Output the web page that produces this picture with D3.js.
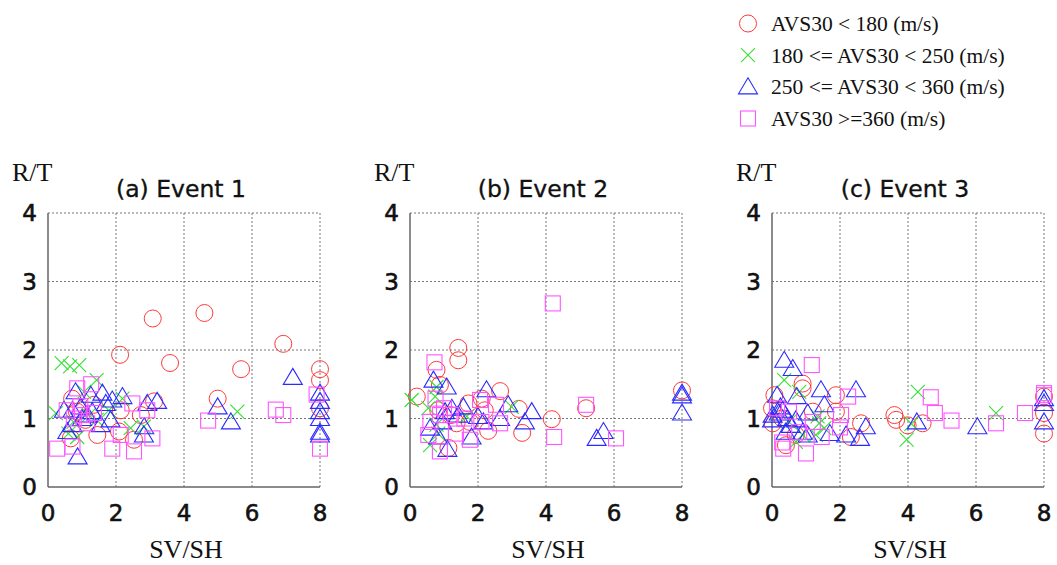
<!DOCTYPE html>
<html>
<head>
<meta charset="utf-8">
<script src="https://cdn.jsdelivr.net/npm/d3@7"></script>
<style>
  body { margin: 0; background: #fff; }
  svg { display: block; }
</style>
</head>
<body>
<div id="chart"></div>
<script>
// ---- data: [SV/SH, R/T] per AVS30 class, one set per event ----
const ev1Lt180 = [[3.08,2.46],[4.6,2.54],[6.92,2.09],[2.12,1.93],[3.59,1.81],[5.68,1.72],[8,1.72],[8,1.56],[8,1.15],[4.99,1.29],[3.12,1.25],[2.14,1.12],[2.73,1.05],[1.45,0.76],[2.09,0.81],[2.53,0.69],[0.67,0.71],[0.71,1.29],[1.35,1.2],[1.1,0.98],[0.85,1.1]];
const ev1To250 = [[0.4,1.81],[0.65,1.76],[0.92,1.78],[1.43,1.56],[0.23,1.08],[1.06,1.39],[2.19,1.29],[5.57,1.1],[2.43,0.86],[2.82,0.88],[0.86,0.73],[0.6,0.78],[1.43,0.98],[1.79,1.12],[0.75,0.95],[1.2,1.05]];
const ev1To360 = [[7.2,1.6],[8,1.37],[8,1.25],[8,1.1],[8,1.0],[8,0.8],[8,0.76],[4.99,1.17],[5.38,0.95],[3.21,1.25],[2.92,1.22],[2.83,0.88],[2.82,0.76],[2.19,1.32],[1.89,1.27],[1.6,1.37],[1.26,1.34],[0.81,1.39],[0.87,0.44],[0.47,1.12],[0.72,1.12],[0.96,1.17],[1.16,1.05],[1.7,1.22],[1.84,0.98],[0.72,0.91],[1.55,0.91],[0.57,0.81],[1.0,1.0],[1.3,1.1]];
const ev1Ge360 = [[7.9,1.35],[8,0.56],[6.7,1.13],[6.92,1.05],[4.71,0.97],[0.27,0.56],[0.72,0.59],[1.89,0.56],[2.53,0.52],[3.07,0.71],[2.14,0.76],[2.48,1.22],[2.92,1.12],[0.86,1.44],[1.27,1.5],[0.76,1.0],[1.35,1.08],[0.55,1.12],[1.0,1.05],[1.15,0.93],[0.95,1.18]];

const ev2Lt180 = [[1.42,2.03],[1.42,1.85],[0.78,1.71],[0.88,1.49],[0.2,1.32],[2.65,1.4],[2.11,1.29],[3.2,1.14],[4.17,0.99],[5.18,1.15],[3.3,0.79],[8,1.41],[2.2,1.12],[2.3,0.82],[1.13,0.57],[1.72,1.22],[1.37,0.93],[1.76,0.95],[0.83,1.12],[1.2,1.05]];
const ev2To250 = [[0.05,1.27],[0.74,1.32],[0.78,1.46],[0.54,1.15],[0.78,0.91],[0.59,0.61],[2.99,1.17],[1.67,1.03],[0.83,0.78]];
const ev2To360 = [[0.69,1.56],[1.08,1.46],[2.25,1.42],[2.89,1.2],[3.58,1.1],[3.38,0.95],[2.65,1.0],[2.16,0.95],[1.23,1.15],[1.57,1.17],[1.81,0.73],[0.59,0.86],[0.83,0.73],[1.03,1.1],[1.42,1.05],[5.69,0.81],[5.49,0.71],[8,1.37],[8,1.33],[8,1.08],[1.1,0.55],[0.95,0.95],[2.0,1.03]];
const ev2Ge360 = [[4.2,2.68],[0.72,1.82],[5.18,1.2],[4.24,0.73],[6.06,0.71],[0.75,1.29],[2.53,1.2],[2.06,1.27],[0.88,0.52],[1.76,0.69],[0.54,0.76],[2.65,0.93],[0.88,1.05],[1.2,1.05],[2.1,0.95],[1.35,0.78],[0.6,0.95],[1.0,1.15],[1.6,1.0]];

const ev3Lt180 = [[0.9,1.51],[0.9,1.44],[0.07,1.34],[1.88,1.34],[1.88,1.1],[2.62,0.93],[2.32,0.73],[3.6,1.05],[3.65,0.98],[3.99,0.9],[4.43,0.93],[8,1.32],[8,1.08],[8,0.78],[0.0,1.15],[0.02,0.93],[0.41,0.61],[0.7,0.76],[1.2,1.1],[0.3,1.0]];
const ev3To250 = [[0.36,1.56],[0.8,1.39],[4.29,1.39],[3.96,0.69],[6.59,1.08],[4.1,0.92],[1.34,1.03],[1.39,0.93],[1.54,0.86],[1.29,0.76],[0.9,0.76],[0.7,0.66],[0.5,0.95]];
const ev3To360 = [[0.36,1.85],[0.61,1.73],[1.44,1.42],[2.47,1.42],[0.15,1.34],[0.73,1.32],[1.54,1.2],[1.05,1.08],[2.76,0.88],[2.59,0.71],[2.18,0.76],[0.9,0.8],[0.4,0.8],[0.7,0.98],[0.02,1.05],[0.31,1.12],[4.26,0.95],[6.04,0.88],[8,1.29],[8,1.22],[8,0.95],[1.7,0.78],[0.0,0.98],[0.2,1.08],[0.25,1.17],[0.45,1.0],[0.55,0.9],[1.05,0.76]];
const ev3Ge360 = [[1.17,1.78],[2.24,1.32],[4.67,1.31],[4.79,1.08],[5.28,0.97],[6.59,0.93],[7.44,1.08],[8,1.37],[8,1.34],[1.0,0.49],[2.03,1.05],[0.33,0.56],[1.46,0.73],[0.5,1.1],[0.15,1.15],[0.8,0.8],[2.0,0.87],[0.3,0.65],[1.2,0.95]];

const panelTitles = ["(a) Event 1", "(b) Event 2", "(c) Event 3"];
const xTicks = [0, 2, 4, 6, 8];
const yTicks = [0, 1, 2, 3, 4];
const classLabels = ["AVS30 < 180 (m/s)", "180 <= AVS30 < 250 (m/s)", "250 <= AVS30 < 360 (m/s)", "AVS30 >=360 (m/s)"];

const events = [
  [ev1Lt180, ev1To250, ev1To360, ev1Ge360],
  [ev2Lt180, ev2To250, ev2To360, ev2Ge360],
  [ev3Lt180, ev3To250, ev3To360, ev3Ge360]
];

// ---- layout ----
const W = 1057, H = 565;
const panelLeft = [48, 410, 772];
const pw = 272, plotTop = 213, plotBottom = 487;
const colors = ["#ff3a3a", "#33e033", "#2b2bff", "#ff55ff"];
const shapes = ["circle", "cross", "triangle", "square"];
const gothic = "'DejaVu Sans', sans-serif";
const serif = "'Liberation Serif', 'Times New Roman', serif";

const svg = d3.select("#chart").append("svg")
  .attr("width", W).attr("height", H);

function drawMarker(g, shape, color) {
  if (shape === "circle") {
    g.append("circle").attr("r", 8.5)
      .attr("fill", "none").attr("stroke", color).attr("stroke-width", 1);
  } else if (shape === "cross") {
    g.append("path").attr("d", "M-7,-7L7,7M-7,7L7,-7")
      .attr("fill", "none").attr("stroke", color).attr("stroke-width", 1.1);
  } else if (shape === "triangle") {
    g.append("path").attr("d", "M0,-9L9.5,7L-9.5,7Z")
      .attr("fill", "none").attr("stroke", color).attr("stroke-width", 1.1);
  } else {
    g.append("rect").attr("x", -7.5).attr("y", -7.5).attr("width", 15).attr("height", 15)
      .attr("fill", "none").attr("stroke", color).attr("stroke-width", 1.1);
  }
}

events.forEach((series, i) => {
  const x0 = panelLeft[i];
  const x = d3.scaleLinear().domain([0, 8]).range([x0, x0 + pw]);
  const y = d3.scaleLinear().domain([0, 4]).range([plotBottom, plotTop]);
  const g = svg.append("g");

  // dotted grid (includes right and top border)
  g.selectAll(".gx").data(xTicks.filter(t => t > 0)).join("line")
    .attr("x1", d => x(d)).attr("x2", d => x(d))
    .attr("y1", plotTop).attr("y2", plotBottom)
    .attr("stroke", "#777").attr("stroke-width", 1).attr("stroke-dasharray", "2,2");
  g.selectAll(".gy").data(yTicks.filter(t => t > 0)).join("line")
    .attr("x1", x0).attr("x2", x0 + pw)
    .attr("y1", d => y(d)).attr("y2", d => y(d))
    .attr("stroke", "#777").attr("stroke-width", 1).attr("stroke-dasharray", "2,2");

  // solid left and bottom axes
  g.append("line").attr("x1", x0).attr("x2", x0).attr("y1", plotTop).attr("y2", plotBottom)
    .attr("stroke", "#666").attr("stroke-width", 1.5);
  g.append("line").attr("x1", x0).attr("x2", x0 + pw).attr("y1", plotBottom).attr("y2", plotBottom)
    .attr("stroke", "#666").attr("stroke-width", 1.5);

  // tick labels (heavier gothic digits)
  g.selectAll(".xt").data(xTicks).join("text")
    .attr("x", d => x(d)).attr("y", 521)
    .attr("text-anchor", "middle")
    .attr("font-family", gothic).attr("font-size", 23).attr("fill", "#111")
    .attr("stroke", "#111").attr("stroke-width", 0.6)
    .text(d => d);
  g.selectAll(".yt").data(yTicks).join("text")
    .attr("x", x0 - 11).attr("y", d => y(d) + 8)
    .attr("text-anchor", "end")
    .attr("font-family", gothic).attr("font-size", 23).attr("fill", "#111")
    .attr("stroke", "#111").attr("stroke-width", 0.6)
    .text(d => d);

  // titles and axis names
  g.append("text").attr("x", x0 + pw / 2 - 3).attr("y", 197)
    .attr("text-anchor", "middle")
    .attr("font-family", gothic).attr("font-size", 23.5).attr("fill", "#111")
    .attr("stroke", "#111").attr("stroke-width", 0.35)
    .text(panelTitles[i]);
  g.append("text").attr("x", x0 - 36).attr("y", 181)
    .attr("font-family", serif).attr("font-size", 26).attr("fill", "#111")
    .text("R/T");
  g.append("text").attr("x", x0 + pw / 2 + 2).attr("y", 558)
    .attr("text-anchor", "middle")
    .attr("font-family", serif).attr("font-size", 26).attr("fill", "#111")
    .text("SV/SH");

  // markers
  series.forEach((pts, k) => {
    const m = g.append("g");
    m.selectAll("g").data(pts).join("g")
      .attr("transform", d => `translate(${x(d[0])},${y(d[1])})`)
      .each(function() { drawMarker(d3.select(this), shapes[k], colors[k]); });
  });
});

// ---- legend ----
const lg = svg.append("g");
const rowY = d3.scalePoint().domain(d3.range(4)).range([23.5, 118.5]);
classLabels.forEach((lab, k) => {
  const r = lg.append("g").attr("transform", `translate(748,${rowY(k)})`);
  drawMarker(r, shapes[k], colors[k]);
  lg.append("text").attr("x", 771).attr("y", rowY(k) + 7.5)
    .attr("font-family", serif).attr("font-size", 21.5).attr("fill", "#111")
    .text(lab);
});
</script>
</body>
</html>
